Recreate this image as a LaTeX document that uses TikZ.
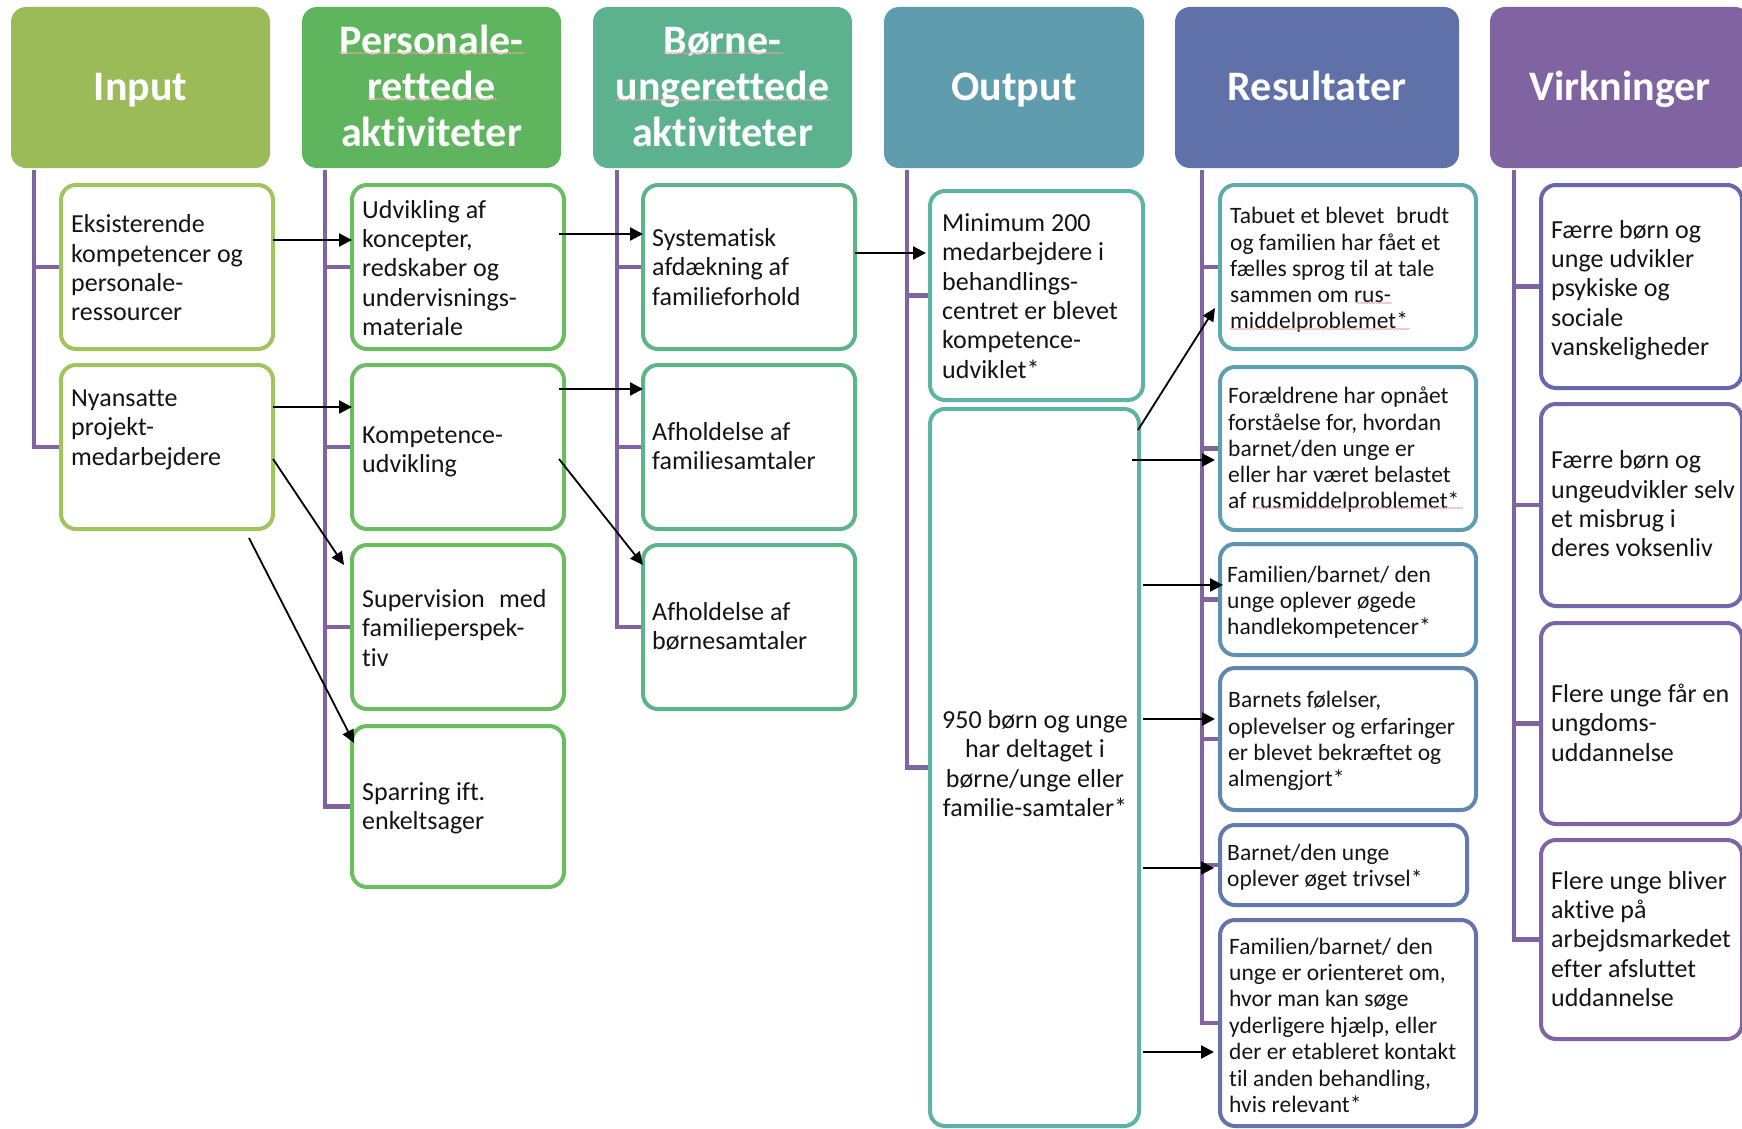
\documentclass[tikz,border=0pt]{standalone}
\usepackage{fontspec}
\setmainfont{Carlito}[Ligatures=NoCommon]
\usetikzlibrary{arrows.meta,fit,calc,backgrounds,decorations.pathmorphing}

% header fills
\definecolor{hIn}{HTML}{9BBB59}
\definecolor{hPe}{HTML}{5EB55E}
\definecolor{hBo}{HTML}{5CB28E}
\definecolor{hOu}{HTML}{5F9CAE}
\definecolor{hRe}{HTML}{6070A9}
\definecolor{hVi}{HTML}{8064A1}
% box outlines
\definecolor{bIn}{HTML}{A0C45E}
\definecolor{bPe}{HTML}{6ABD60}
\definecolor{bBo}{HTML}{5EB48A}
\definecolor{bOu}{HTML}{5EB4A4}
\definecolor{bReA}{HTML}{5FAAAF}
\definecolor{bReB}{HTML}{5E9FB0}
\definecolor{bReC}{HTML}{5F92B2}
\definecolor{bReD}{HTML}{6087B2}
\definecolor{bReE}{HTML}{6279AF}
\definecolor{bReF}{HTML}{6572AB}
\definecolor{bViA}{HTML}{6866AD}
\definecolor{bViB}{HTML}{7466AA}
\definecolor{bViC}{HTML}{7B65A7}
\definecolor{bViD}{HTML}{8064A2}
\definecolor{trunkc}{HTML}{8064A2}
\definecolor{inkc}{HTML}{141414}
\definecolor{spellc}{HTML}{E9A3A3}

\newcommand\mkbox[6]{\node[bx, draw=#6, fit={(#2,#3) (#4,#5)}] (#1) {};}
\newcommand\mkhead[6]{\node[hdr, fill=#6, fit={(#2,#3) (#4,#5)}] (#1) {};}

\begin{document}
\begin{tikzpicture}[x=1pt,y=-1pt,
  hdr/.style={draw=none, rounded corners=15pt, inner sep=0pt, outer sep=0pt},
  ttl/.style={text=white, align=center, inner sep=0pt,
    font=\bfseries\fontsize{42}{46}\selectfont},
  bx/.style={fill=white, line width=4pt, rounded corners=15pt, inner sep=0pt, outer sep=0pt},
  txt/.style={anchor=west, inner sep=0pt, align=left, text=inkc, yshift=-4pt,
    font=\fontsize{26}{29.4}\selectfont},
  rtxt/.style={txt, font=\fontsize{23.5}{26.2}\selectfont},
  trunk/.style={draw=trunkc, line width=4.5pt, line join=miter},
  arr/.style={line width=2.3pt, -{Triangle[length=13pt,width=13pt]}},
  darr/.style={line width=1.8pt, -{Triangle[length=13pt,width=12pt]}},
  spell/.style={draw=spellc, line width=0.7pt, decorate,
    decoration={snake, amplitude=0.6pt, segment length=3pt}}]

\useasboundingbox (0,0) rectangle (1742,1129);
\clip (0,0) rectangle (1742,1129);

% ---------- column headers ----------
\mkhead{hInput}{11}{7}{270}{168}{hIn}
\mkhead{hPers}{302}{7}{561}{168}{hPe}
\mkhead{hBorn}{593}{7}{852}{168}{hBo}
\mkhead{hOutp}{884}{7}{1144}{168}{hOu}
\mkhead{hRes}{1175}{7}{1459}{168}{hRe}
\mkhead{hVirk}{1490}{7}{1750}{168}{hVi}

\node[ttl] (tInput) at (140.5,91.5) {\strut Input};
\node[ttl] (tPers) at (431.5,91.5) {\strut Personale-\\\strut rettede\\\strut aktiviteter};
\node[ttl] (tBorn) at (722.5,91.5) {\strut Børne-\\\strut ungerettede\\\strut aktiviteter};
\node[ttl] (tOutp) at (1014,91.5) {\strut Output};
\node[ttl] (tRes) at (1317,91.5) {\strut Resultater};
\node[ttl] (tVirk) at (1620,91.5) {\strut Virkninger};

% ---------- boxes ----------
\mkbox{eks}{61}{185}{273}{349}{bIn}
\mkbox{nya}{61}{365}{273}{529}{bIn}

\mkbox{udv}{352}{185}{564}{349}{bPe}
\mkbox{komp}{352}{365}{564}{529}{bPe}
\mkbox{sup}{352}{545}{564}{709}{bPe}
\mkbox{spar}{352}{726}{564}{887}{bPe}

\mkbox{syst}{643}{185}{855}{349}{bBo}
\mkbox{afam}{643}{365}{855}{529}{bBo}
\mkbox{abrn}{643}{545}{855}{709}{bBo}

\mkbox{mini}{930}{191}{1143}{400}{bOu}
\mkbox{oall}{930}{409}{1139}{1126}{bOu}

\mkbox{tab}{1220}{185}{1476}{349}{bReA}
\mkbox{fora}{1220}{367}{1476}{530}{bReB}
\mkbox{fam}{1220}{544}{1476}{655}{bReC}
\mkbox{bar}{1220}{668}{1476}{810}{bReD}
\mkbox{trv}{1220}{825}{1467}{905}{bReE}
\mkbox{hjlp}{1220}{920}{1476}{1126}{bReF}

\mkbox{vA}{1541}{185}{1742}{388}{bViA}
\mkbox{vB}{1541}{404}{1742}{606}{bViB}
\mkbox{vC}{1541}{623}{1742}{824}{bViC}
\mkbox{vD}{1541}{840}{1742}{1039}{bViD}

% ---------- trunks and branches, behind the boxes ----------
\coordinate (tr1) at (34,170);
\coordinate (tr2) at (325,170);
\coordinate (tr3) at (617,170);
\coordinate (tr4) at (907,170);
\coordinate (tr5) at (1202,170);
\coordinate (tr6) at (1514,170);

\begin{scope}[on background layer]
\fill[white] (0,0) rectangle (1742,1129);

\draw[trunk] (tr1) |- (nya.west);
\draw[trunk] (tr1 |- eks.west) -- (eks.west);

\draw[trunk] (tr2) |- (spar.west);
\draw[trunk] (tr2 |- udv.west) -- (udv.west);
\draw[trunk] (tr2 |- komp.west) -- (komp.west);
\draw[trunk] (tr2 |- sup.west) -- (sup.west);

\draw[trunk] (tr3) |- (abrn.west);
\draw[trunk] (tr3 |- syst.west) -- (syst.west);
\draw[trunk] (tr3 |- afam.west) -- (afam.west);

\draw[trunk] (tr4) |- (oall.west);
\draw[trunk] (tr4 |- mini.west) -- (mini.west);

\draw[trunk] (tr5) |- (hjlp.west);
\draw[trunk] (tr5 |- tab.west) -- (tab.west);
\draw[trunk] (tr5 |- fora.west) -- (fora.west);
\draw[trunk] (tr5 |- fam.west) -- (fam.west);
\draw[trunk] (tr5 |- bar.west) -- (bar.west);
\draw[trunk] (tr5 |- trv.west) -- (trv.west);

\draw[trunk] (tr6) |- (vD.west);
\draw[trunk] (tr6 |- vA.west) -- (vA.west);
\draw[trunk] (tr6 |- vB.west) -- (vB.west);
\draw[trunk] (tr6 |- vC.west) -- (vC.west);
\end{scope}

% ---------- box texts ----------
\node[txt] (tEks) at (71,267) {\strut Eksisterende\\\strut kompetencer og\\\strut personale-\\\strut ressourcer};
\node[txt] (tNya) at (71,426) {\strut Nyansatte\\\strut projekt-\\\strut medarbejdere};

\node[txt] (tUdv) at (362,267) {\strut Udvikling af\\\strut koncepter,\\\strut redskaber og\\\strut undervisnings-\\\strut materiale};
\node[txt] (tKomp) at (362,448) {\strut Kompetence-\\\strut udvikling};
\node[txt] (tSup) at (362,627) {\strut Supervision\hspace{0.55em}med\\\strut familieperspek-\\\strut tiv};
\node[txt] (tSpar) at (362,805) {\strut Sparring ift.\\\strut enkeltsager};

\node[txt] (tSyst) at (652,266) {\strut Systematisk\\\strut afdækning af\\\strut familieforhold};
\node[txt] (tAfam) at (652,445) {\strut Afholdelse af\\\strut familiesamtaler};
\node[txt] (tAbrn) at (652,625) {\strut Afholdelse af\\\strut børnesamtaler};

\node[txt] (tMini) at (942,295) {\strut Minimum 200\\\strut medarbejdere i\\\strut behandlings-\\\strut centret er blevet\\\strut kompetence-\\\strut udviklet*};
\node[txt, anchor=center, align=center] (tOall) at (1035,762.5) {\strut 950 børn og unge\\\strut har deltaget i\\\strut børne/unge eller\\\strut familie-samtaler*};

\node[rtxt] (tTab) at (1230,267) {\strut Tabuet et blevet\hspace{0.5em}brudt\\\strut og familien har fået et\\\strut fælles sprog til at tale\\\strut sammen om rus-\\\strut middelproblemet*};
\node[rtxt] (tFora) at (1228,447) {\strut Forældrene har opnået\\\strut forståelse for, hvordan\\\strut barnet/den unge er\\\strut eller har været belastet\\\strut af rusmiddelproblemet*};
\node[rtxt] (tFam) at (1227,599) {\strut Familien/barnet/ den\\\strut unge oplever øgede\\\strut handlekompetencer*};
\node[rtxt] (tBar) at (1228,738) {\strut Barnets følelser,\\\strut oplevelser og erfaringer\\\strut er blevet bekræftet og\\\strut almengjort*};
\node[rtxt] (tTrv) at (1227,864) {\strut Barnet/den unge\\\strut oplever øget trivsel*};
\node[rtxt, font=\fontsize{23.5}{26.4}\selectfont] (tHjlp) at (1229,1024) {\strut Familien/barnet/ den\\\strut unge er orienteret om,\\\strut hvor man kan søge\\\strut yderligere hjælp, eller\\\strut der er etableret kontakt\\\strut til anden behandling,\\\strut hvis relevant*};

\node[txt] (tvA) at (1551,287) {\strut Færre børn og\\\strut unge udvikler\\\strut psykiske og\\\strut sociale\\\strut vanskeligheder};
\node[txt] (tvB) at (1551,503) {\strut Færre børn og\\\strut ungeudvikler selv\\\strut et misbrug i\\\strut deres voksenliv};
\node[txt] (tvC) at (1551,722) {\strut Flere unge får en\\\strut ungdoms-\\\strut uddannelse};
\node[txt] (tvD) at (1551,938) {\strut Flere unge bliver\\\strut aktive på\\\strut arbejdsmarkedet\\\strut efter afsluttet\\\strut uddannelse};

% ---------- spelling marks under flagged words ----------
\draw[spell] (339,53) -- (525,53);
\draw[spell] (367,99) -- (497,99);
\draw[spell] (663,53) -- (783,53);
\draw[spell] (615,100) -- (831,100);
\draw[spell] (1356,303) -- (1392,303);
\draw[spell] (1230,329) -- (1410,329);
\draw[spell] (1252,508) -- (1463,508);

% ---------- arrows ----------
\draw[arr] (eks.east |- 0,240) -- (udv.west |- 0,240);
\draw[arr] (nya.east |- 0,407) -- (komp.west |- 0,407);
\draw[darr] (nya.east |- 0,459) -- ($(sup.west |- 0,565)+(-8,0)$);
\draw[darr] ($(nya.south east)+(-24,9)$) -- ($(spar.west |- 0,743)+(2,0)$);

\draw[arr] ($(udv.east |- 0,234)+(-5,0)$) -- (syst.west |- 0,234);
\draw[arr] ($(komp.east |- 0,389)+(-5,0)$) -- (afam.west |- 0,389);
\draw[darr] ($(komp.east |- 0,459)+(-5,0)$) -- (abrn.west |- 0,565);

\draw[arr] (syst.east |- 0,253) -- ($(mini.west |- 0,253)+(-4,0)$);

\draw[darr] ($(oall.east |- 0,430)+(-1,0)$) -- ($(tab.west |- 0,308)+(-5,0)$);
\draw[arr] ($(oall.east |- 0,460)+(-7,0)$) -- ($(fora.west |- 0,460)+(-5,0)$);
\draw[arr] ($(oall.east |- 0,585)+(4,0)$) -- ($(fam.west |- 0,585)+(3,0)$);
\draw[arr] ($(oall.east |- 0,719)+(4,0)$) -- ($(bar.west |- 0,719)+(-5,0)$);
\draw[arr] ($(oall.east |- 0,868)+(4,0)$) -- ($(trv.west |- 0,868)+(-6,0)$);
\draw[arr] ($(oall.east |- 0,1052)+(4,0)$) -- ($(hjlp.west |- 0,1052)+(-6,0)$);

\end{tikzpicture}
\end{document}
